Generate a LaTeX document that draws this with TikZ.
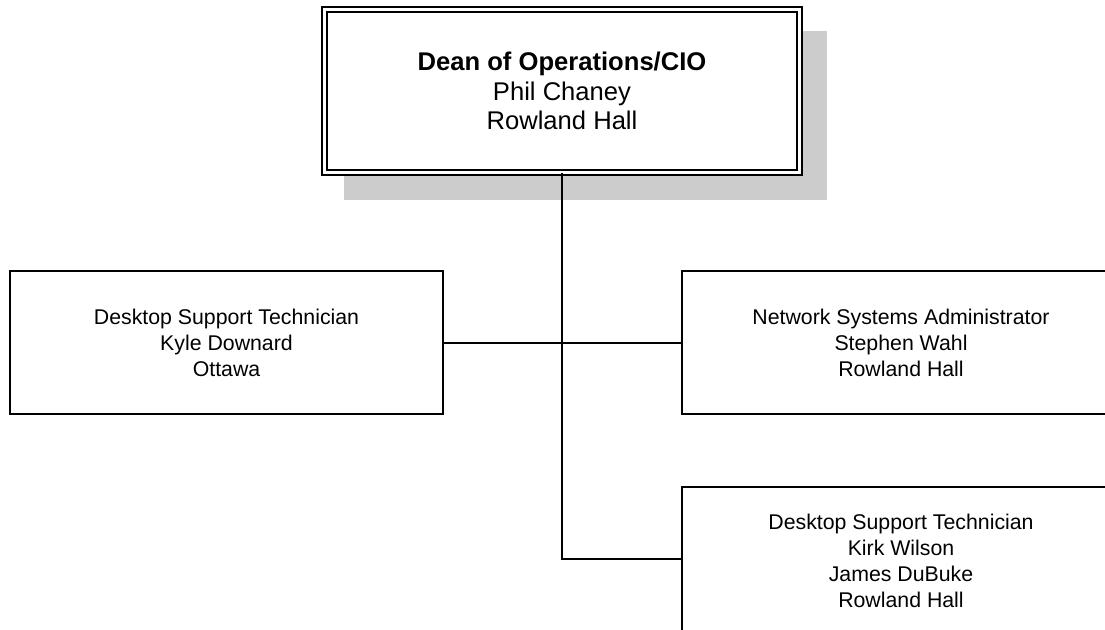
\documentclass[tikz,border=0pt]{standalone}
\usepackage{fontspec}
\setmainfont{Liberation Sans}
\begin{document}
\begin{tikzpicture}[x=1pt,y=-1pt,
  box/.style={draw=black,line width=2pt,fill=white,rectangle,minimum width=433pt,minimum height=143pt,inner sep=0pt,align=center,font=\fontsize{21.3}{26}\selectfont},
  topbox/.style={draw=black,line width=1.8pt,double=white,double distance=3.2pt,fill=white,rectangle,minimum width=475pt,minimum height=163pt,inner sep=0pt,align=center,font=\fontsize{25.6}{29.5}\selectfont},
  link/.style={draw=black,line width=2pt}]
\clip (0,0) rectangle (1105,629);
\fill[white] (0,0) rectangle (1105,629);
% shadow of the top box
\fill[fill={rgb,255:red,204;green,204;blue,204}] (344,31) rectangle (827,200);
\node[topbox] (top) at (562,91) {\textbf{Dean of Operations/CIO}\\Phil Chaney\\Rowland Hall};
\node[box] (left) at (226.5,342.5) {Desktop Support Technician\\Kyle Downard\\Ottawa};
\node[box,minimum width=438pt] (right) at (901,342.5) {Network Systems Administrator\\Stephen Wahl\\Rowland Hall};
\node[box,minimum width=438pt,minimum height=147pt] (bot) at (901,560.5) {Desktop Support Technician\\Kirk Wilson\\James DuBuke\\Rowland Hall};
\coordinate (bend) at (top.south |- 0,559);
\draw[link] (top.south) -- (bend) -- (bend -| bot.west);
\draw[link] (left.east) -- (right.west);
\end{tikzpicture}
\end{document}
